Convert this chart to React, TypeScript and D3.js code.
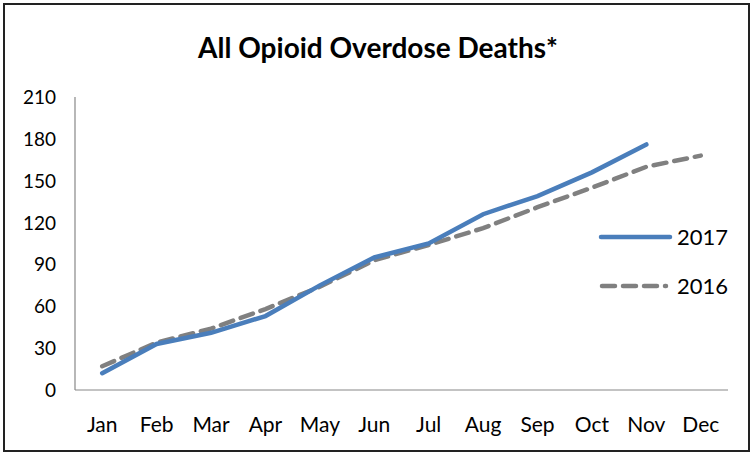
import React, { useEffect } from "react"
import * as d3 from "d3"

const months = ["Jan", "Feb", "Mar", "Apr", "May", "Jun", "Jul", "Aug", "Sep", "Oct", "Nov", "Dec"]
const deaths2017 = [12, 33, 41, 53, 75, 95, 105, 126, 139, 156, 176]
const deaths2016 = [17, 34, 44, 58, 74, 93, 104, 116, 131, 145, 160, 168]
const yTicks = [0, 30, 60, 90, 120, 150, 180, 210]

const W = 753
const H = 455
const margin = { top: 97, right: 25, bottom: 65, left: 75 }
const font = "Lato, 'Open Sans', sans-serif"

export default function App() {
  useEffect(() => {
    document.body.style.margin = "0"
  }, [])

  const x = d3
    .scaleBand()
    .domain(months)
    .range([margin.left, W - margin.right])
  const y = d3
    .scaleLinear()
    .domain([0, 210])
    .range([H - margin.bottom, margin.top])

  const line = d3
    .line<number>()
    .x((d, i) => (x(months[i]) as number) + x.bandwidth() / 2)
    .y(d => y(d))

  const bottom = H - margin.bottom

  return (
    <svg width={W} height={H} style={{ display: "block" }}>
      <rect x={4} y={4} width={W - 8} height={H - 8} fill="white" stroke="#222" strokeWidth={2} />
      <text x={378} y={58} textAnchor="middle" fontFamily={font} fontWeight="bold" fontSize={28}>
        All Opioid Overdose Deaths*
      </text>

      {yTicks.map(t => (
        <text key={t} x={56} y={y(t) + 7} textAnchor="end" fontFamily={font} fontSize={19}>
          {t}
        </text>
      ))}
      {months.map(m => (
        <text
          key={m}
          x={(x(m) as number) + x.bandwidth() / 2}
          y={bottom + 42}
          textAnchor="middle"
          fontFamily={font}
          fontSize={21}
        >
          {m}
        </text>
      ))}

      <line x1={margin.left} x2={margin.left} y1={margin.top} y2={bottom} stroke="#888" strokeWidth={1.2} />
      <line x1={margin.left} x2={W - margin.right} y1={bottom} y2={bottom} stroke="#888" strokeWidth={1.2} />

      <path
        d={line(deaths2016) || ""}
        fill="none"
        stroke="#808080"
        strokeWidth={4.5}
        strokeDasharray="13 8"
        strokeLinecap="round"
      />
      <path d={line(deaths2017) || ""} fill="none" stroke="#4a7ebb" strokeWidth={4.5} strokeLinecap="round" />

      <g fontFamily={font} fontSize={22}>
        <line x1={601} x2={670} y1={237} y2={237} stroke="#4a7ebb" strokeWidth={4.5} strokeLinecap="round" />
        <text x={677} y={245}>2017</text>
        <line
          x1={602}
          x2={666}
          y1={286}
          y2={286}
          stroke="#808080"
          strokeWidth={4.5}
          strokeDasharray="13 8"
          strokeLinecap="round"
        />
        <text x={677} y={294}>2016</text>
      </g>
    </svg>
  )
}
